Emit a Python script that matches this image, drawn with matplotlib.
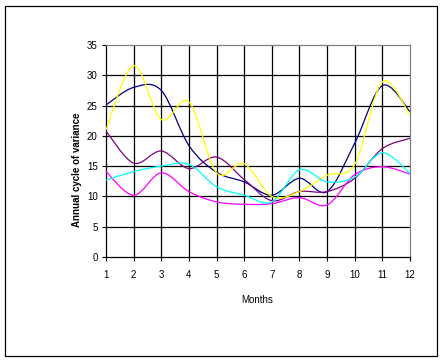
import numpy as np
import matplotlib
matplotlib.use('Agg')
import matplotlib.pyplot as plt
from matplotlib.path import Path
from matplotlib.patches import PathPatch, Rectangle

plt.rcParams['font.family'] = ['Liberation Sans', 'DejaVu Sans']

months = [1, 2, 3, 4, 5, 6, 7, 8, 9, 10, 11, 12]

navy = [25.1, 28.0, 27.5, 18.4, 14.0, 12.4, 10.2, 13.0, 10.8, 18.8, 28.3, 24.0]
purple = [20.8, 15.5, 17.5, 14.6, 16.5, 12.8, 9.3, 10.8, 10.8, 13.0, 17.9, 19.6]
yellow = [21.0, 31.6, 22.7, 25.6, 13.9, 15.4, 10.0, 10.8, 13.5, 15.3, 28.9, 23.4]
cyan = [12.7, 14.1, 15.0, 15.3, 11.6, 10.2, 9.1, 14.4, 12.4, 13.2, 17.2, 13.8]
magenta = [14.1, 10.2, 13.9, 10.8, 9.1, 8.7, 8.8, 9.8, 8.6, 13.6, 14.9, 13.7]

series = [(navy, '#000080'), (purple, '#800080'), (magenta, '#FF00FF'),
          (yellow, '#FFFF00'), (cyan, '#00FFFF')]


def smooth_path(xs, ys):
    # excel style smoothed line: bezier segments with catmull-rom handles
    n = len(xs)
    verts = [(xs[0], ys[0])]
    codes = [Path.MOVETO]
    for i in range(n - 1):
        x0, y0 = xs[max(i - 1, 0)], ys[max(i - 1, 0)]
        x1, y1 = xs[i], ys[i]
        x2, y2 = xs[i + 1], ys[i + 1]
        x3, y3 = xs[min(i + 2, n - 1)], ys[min(i + 2, n - 1)]
        c1 = (x1 + (x2 - x0) / 6.0, y1 + (y2 - y0) / 6.0)
        c2 = (x2 - (x3 - x1) / 6.0, y2 - (y3 - y1) / 6.0)
        verts += [c1, c2, (x2, y2)]
        codes += [Path.CURVE4] * 3
    return Path(verts, codes)


fig = plt.figure(figsize=(4.44, 3.63), dpi=100)
fig.patch.set_facecolor('white')
fig.patches.append(Rectangle((5 / 444, 1 - 356 / 363), 432 / 444, 350 / 363,
                             transform=fig.transFigure, fill=False,
                             edgecolor='black', linewidth=0.9))

ax = fig.add_axes([106 / 444, 1 - 257 / 363, 304 / 444, 212 / 363])
ax.set_xlim(1, 12)
ax.set_ylim(0, 35)

for m in months[1:-1]:
    ax.axvline(m, color='black', linewidth=0.9, zorder=1)
for v in range(5, 35, 5):
    ax.axhline(v, color='black', linewidth=0.9, zorder=1)

for vals, col in series:
    ax.add_patch(PathPatch(smooth_path(months, vals), facecolor='none',
                           edgecolor=col, linewidth=0.9, zorder=3))

ax.set_xticks(months)
ax.set_yticks(range(0, 36, 5))
ax.tick_params(axis='both', direction='out', length=3, width=0.8,
               labelsize=7, color='black', pad=6)
ax.tick_params(axis='y', pad=3)
ax.spines['left'].set_color('black')
ax.spines['bottom'].set_color('black')
ax.spines['top'].set_color('#808080')
ax.spines['right'].set_color('#808080')
for s in ax.spines.values():
    s.set_linewidth(0.9)

fig.text(257 / 444, 1 - 300 / 363, 'Months', fontsize=7, ha='center', va='center')
fig.text(76.5 / 444, 1 - 170 / 363, 'Annual cycle of variance', fontsize=7,
         fontweight='bold', rotation=90, ha='center', va='center')

fig.savefig('out.png', dpi=100)
